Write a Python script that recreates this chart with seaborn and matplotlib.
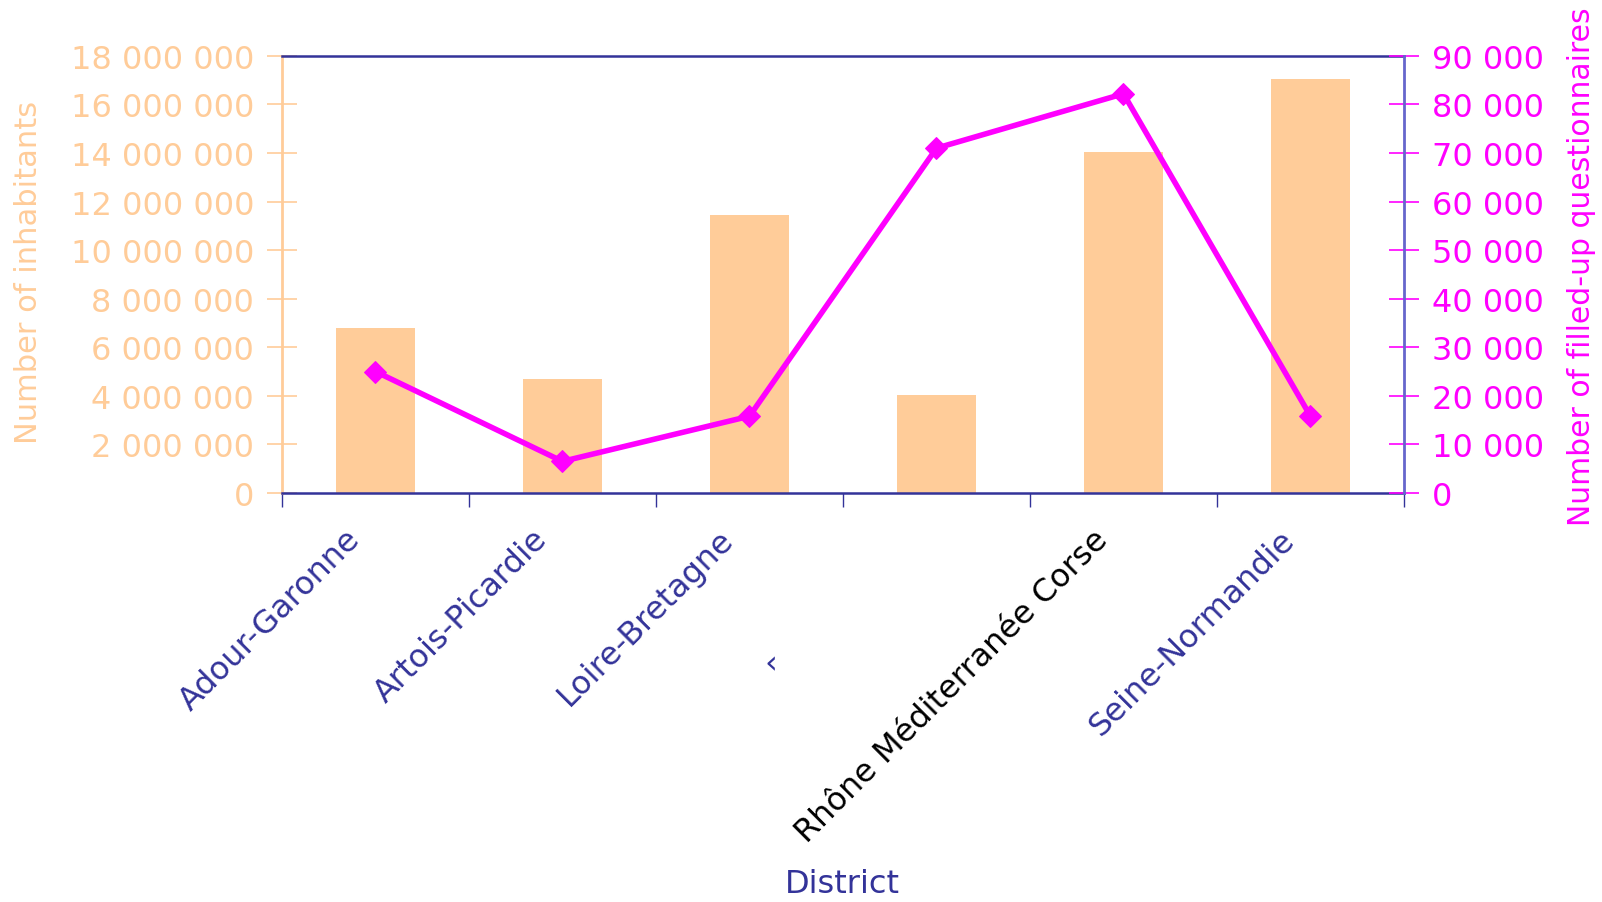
import numpy as np
import pandas as pd
import matplotlib
matplotlib.use("Agg")
import matplotlib.pyplot as plt
from matplotlib.ticker import FuncFormatter, MultipleLocator, FixedLocator
import seaborn as sns

districts = ["Adour-Garonne", "Artois-Picardie", "Loire-Bretagne", "Rhin-Meuse",
             "Rhône Méditerranée Corse", "Seine-Normandie"]
tick_labels = ["Adour-Garonne", "Artois-Picardie", "Loire-Bretagne", "",
               "Rhône Méditerranée Corse", "Seine-Normandie"]
fragment_label = "\u2039"
inhabitants = [6800000, 4700000, 11450000, 4050000, 14050000, 17030000]
questionnaires = [25000, 6500, 15800, 71000, 82200, 15800]

PEACH = "#FFCC99"
MAGENTA = "#FF00FF"
NAVY = "#333399"
FS_TICK = 23
FS_XLAB = 23

sns.set_theme(style="white")
plt.rcParams["font.family"] = ["DejaVu Sans"]

fig = plt.figure(figsize=(16.02, 9.03), dpi=100)
ax = fig.add_axes([0.176, 0.453, 0.7004, 0.484])

df = pd.DataFrame({"District": districts, "Inhabitants": inhabitants})
sns.barplot(data=df, x="District", y="Inhabitants", color=PEACH, saturation=1,
            width=0.42, ax=ax, edgecolor="none")
ax.set_xlim(-0.5, 5.5)
ax.set_ylim(0, 18000000)
ax.yaxis.set_major_locator(MultipleLocator(2000000))
fmt = FuncFormatter(lambda v, p: f"{v:,.0f}".replace(",", " "))
ax.yaxis.set_major_formatter(fmt)
ax.tick_params(axis="y", colors=PEACH, labelsize=FS_TICK, length=22, width=1.2,
               direction="inout", left=True, pad=9)
ax.set_ylabel("Number of inhabitants", color=PEACH, fontsize=22, va="center")
ax.yaxis.set_label_coords(-0.2255, 0.506)

# label anchors sit slightly left of each category centre, as in the reference
ax.set_xticks(np.arange(6) - 0.166)
ax.set_xticklabels(tick_labels, rotation=45, ha="right", rotation_mode="anchor",
                   fontsize=FS_XLAB)
for i, lab in enumerate(ax.get_xticklabels()):
    lab.set_color("black" if i == 4 else NAVY)
ax.tick_params(axis="x", which="major", length=0, pad=22)
ax.xaxis.set_minor_locator(FixedLocator(np.arange(-0.5, 6.0, 1.0)))
ax.tick_params(axis="x", which="minor", length=10, width=1.0, color=NAVY,
               direction="out", bottom=True)
ax.set_xlabel("")
ax.annotate(fragment_label, xy=(3, 0), xycoords=("data", "axes fraction"),
            xytext=(-166, -171), textcoords="offset pixels", color=NAVY,
            fontsize=FS_XLAB, ha="center", va="center")
fig.text(0.526, 0.021, "District", color=NAVY, fontsize=FS_XLAB,
         ha="center", va="center")

for s in ["top", "bottom"]:
    ax.spines[s].set_color(NAVY)
    ax.spines[s].set_linewidth(1.8)
ax.spines["left"].set_color(PEACH)
ax.spines["left"].set_linewidth(2.0)
ax.spines["right"].set_visible(False)

ax2 = ax.twinx()
sns.lineplot(x=np.arange(6), y=questionnaires, ax=ax2, color=MAGENTA,
             linewidth=4, marker="D", markersize=11, markeredgecolor=MAGENTA)
ax2.set_xlim(-0.5, 5.5)
ax2.set_ylim(0, 90000)
ax2.yaxis.set_major_locator(MultipleLocator(10000))
ax2.yaxis.set_major_formatter(fmt)
ax2.tick_params(axis="y", colors=MAGENTA, labelsize=FS_TICK, length=22, width=1.2,
                direction="inout", right=True, pad=9)
ax2.set_ylabel("Number of filled-up questionnaires", color=MAGENTA,
               fontsize=21.5, rotation=90, va="center")
ax2.yaxis.set_label_coords(1.1586, 0.52)
ax2.spines["right"].set_color("#6666CC")
ax2.spines["right"].set_linewidth(2.0)
for s in ["top", "bottom", "left"]:
    ax2.spines[s].set_visible(False)
ax2.grid(False)
ax.grid(False)

fig.savefig("out.png", dpi=100)
